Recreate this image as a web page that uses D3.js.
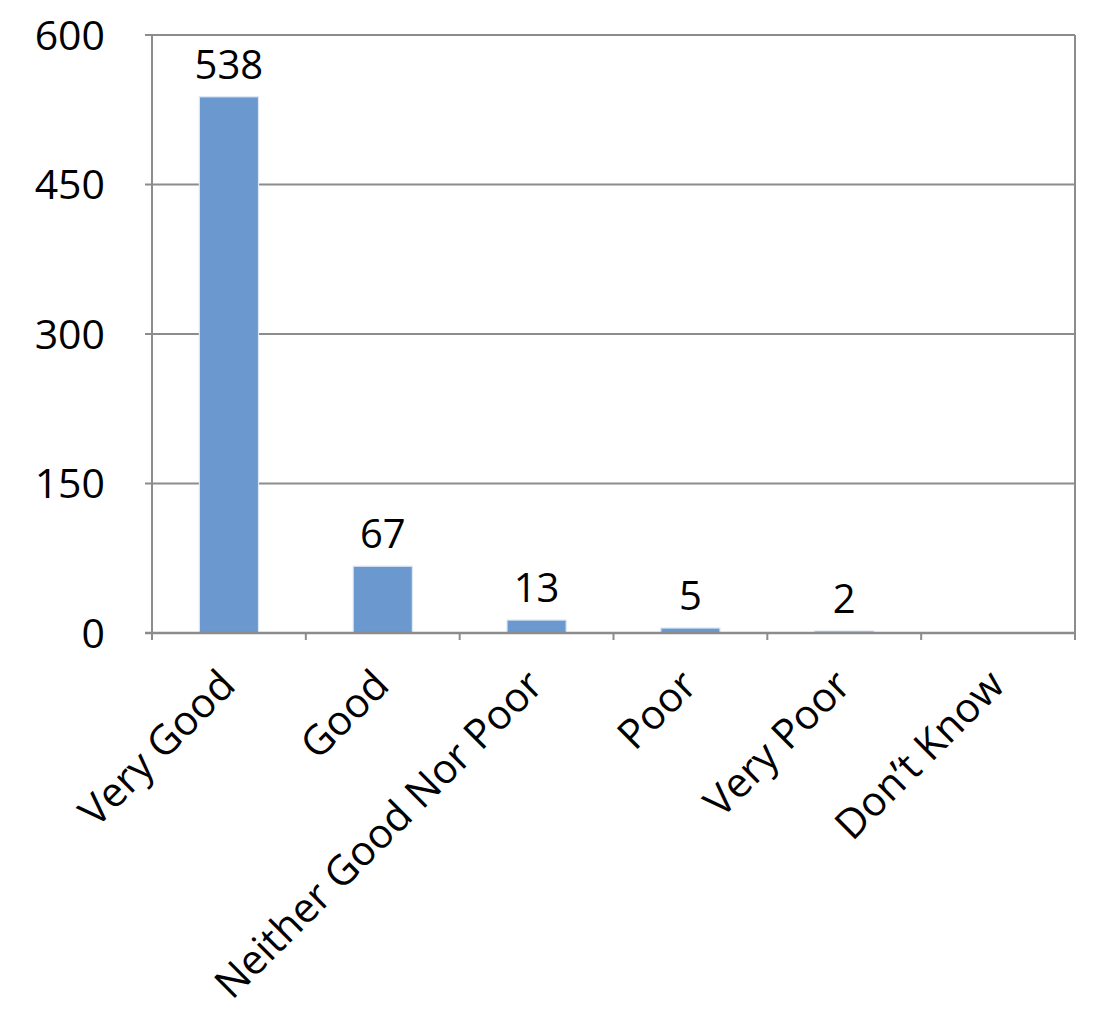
<!DOCTYPE html>
<html><head><meta charset="utf-8">
<script src="https://cdn.jsdelivr.net/npm/d3@7"></script>
<style>body{margin:0;background:#fff;} text{font-family:"Open Sans",sans-serif;fill:#000;}</style>
</head><body><svg id="c" width="1101" height="1020"></svg>
<script>
const categories = ["Very Good","Good","Neither Good Nor Poor","Poor","Very Poor","Don\u2019t Know"];
const values = [538, 67, 13, 5, 2, 0];
const yTicks = [0, 150, 300, 450, 600];

const svg = d3.select("#c");
const L = 152, R = 1075, T = 35, B = 633;
const x = d3.scaleBand().domain(categories).range([L, R]).paddingInner(1.6/2.6).paddingOuter(0.8/2.6);
const y = d3.scaleLinear().domain([0, 600]).range([B, T]);
const grid = "#8c8c8c";

// gridlines
svg.append("g").selectAll("line").data(yTicks.filter(d => d > 0)).join("line")
  .attr("x1", L - 7).attr("x2", R).attr("y1", d => y(d)).attr("y2", d => y(d))
  .attr("stroke", grid).attr("stroke-width", 2);
// left & right borders
svg.append("line").attr("x1", L).attr("x2", L).attr("y1", T).attr("y2", B).attr("stroke", grid).attr("stroke-width", 2);
svg.append("line").attr("x1", R).attr("x2", R).attr("y1", T).attr("y2", B + 7).attr("stroke", grid).attr("stroke-width", 2);

// bars
svg.append("g").selectAll("rect").data(categories).join("rect")
  .attr("x", d => x(d)).attr("width", x.bandwidth())
  .attr("y", (d, i) => y(values[i])).attr("height", (d, i) => B - y(values[i]))
  .attr("fill", "#6a98cf").attr("stroke", "#dde8f4").attr("stroke-width", 1.2);

// baseline axis
svg.append("line").attr("x1", L - 7).attr("x2", R).attr("y1", B).attr("y2", B).attr("stroke", grid).attr("stroke-width", 2.5);
// x ticks at band boundaries
svg.append("g").selectAll("line").data(d3.range(categories.length + 1)).join("line")
  .attr("x1", i => L + i * (R - L) / categories.length).attr("x2", i => L + i * (R - L) / categories.length)
  .attr("y1", B).attr("y2", B + 7).attr("stroke", grid).attr("stroke-width", 2);

// y tick labels
svg.append("g").selectAll("text").data(yTicks).join("text")
  .attr("x", 105).attr("y", d => y(d)).attr("dy", "0.36em")
  .attr("text-anchor", "end").style("font-size", "41px").text(d => d);

// value labels
svg.append("g").selectAll("text").data(categories.filter((d, i) => values[i] > 0)).join("text")
  .attr("x", d => x(d) + x.bandwidth() / 2)
  .attr("y", d => y(values[categories.indexOf(d)]) - 18)
  .attr("text-anchor", "middle").style("font-size", "40px")
  .text(d => values[categories.indexOf(d)]);

// category labels
svg.append("g").selectAll("text").data(categories).join("text")
  .attr("transform", d => `translate(${x(d) + x.bandwidth() / 2 - 12},${B + 34}) rotate(-45)`)
  .attr("text-anchor", "end").attr("dy", "0.71em").style("font-size", "41px").text(d => d);
</script></body></html>
